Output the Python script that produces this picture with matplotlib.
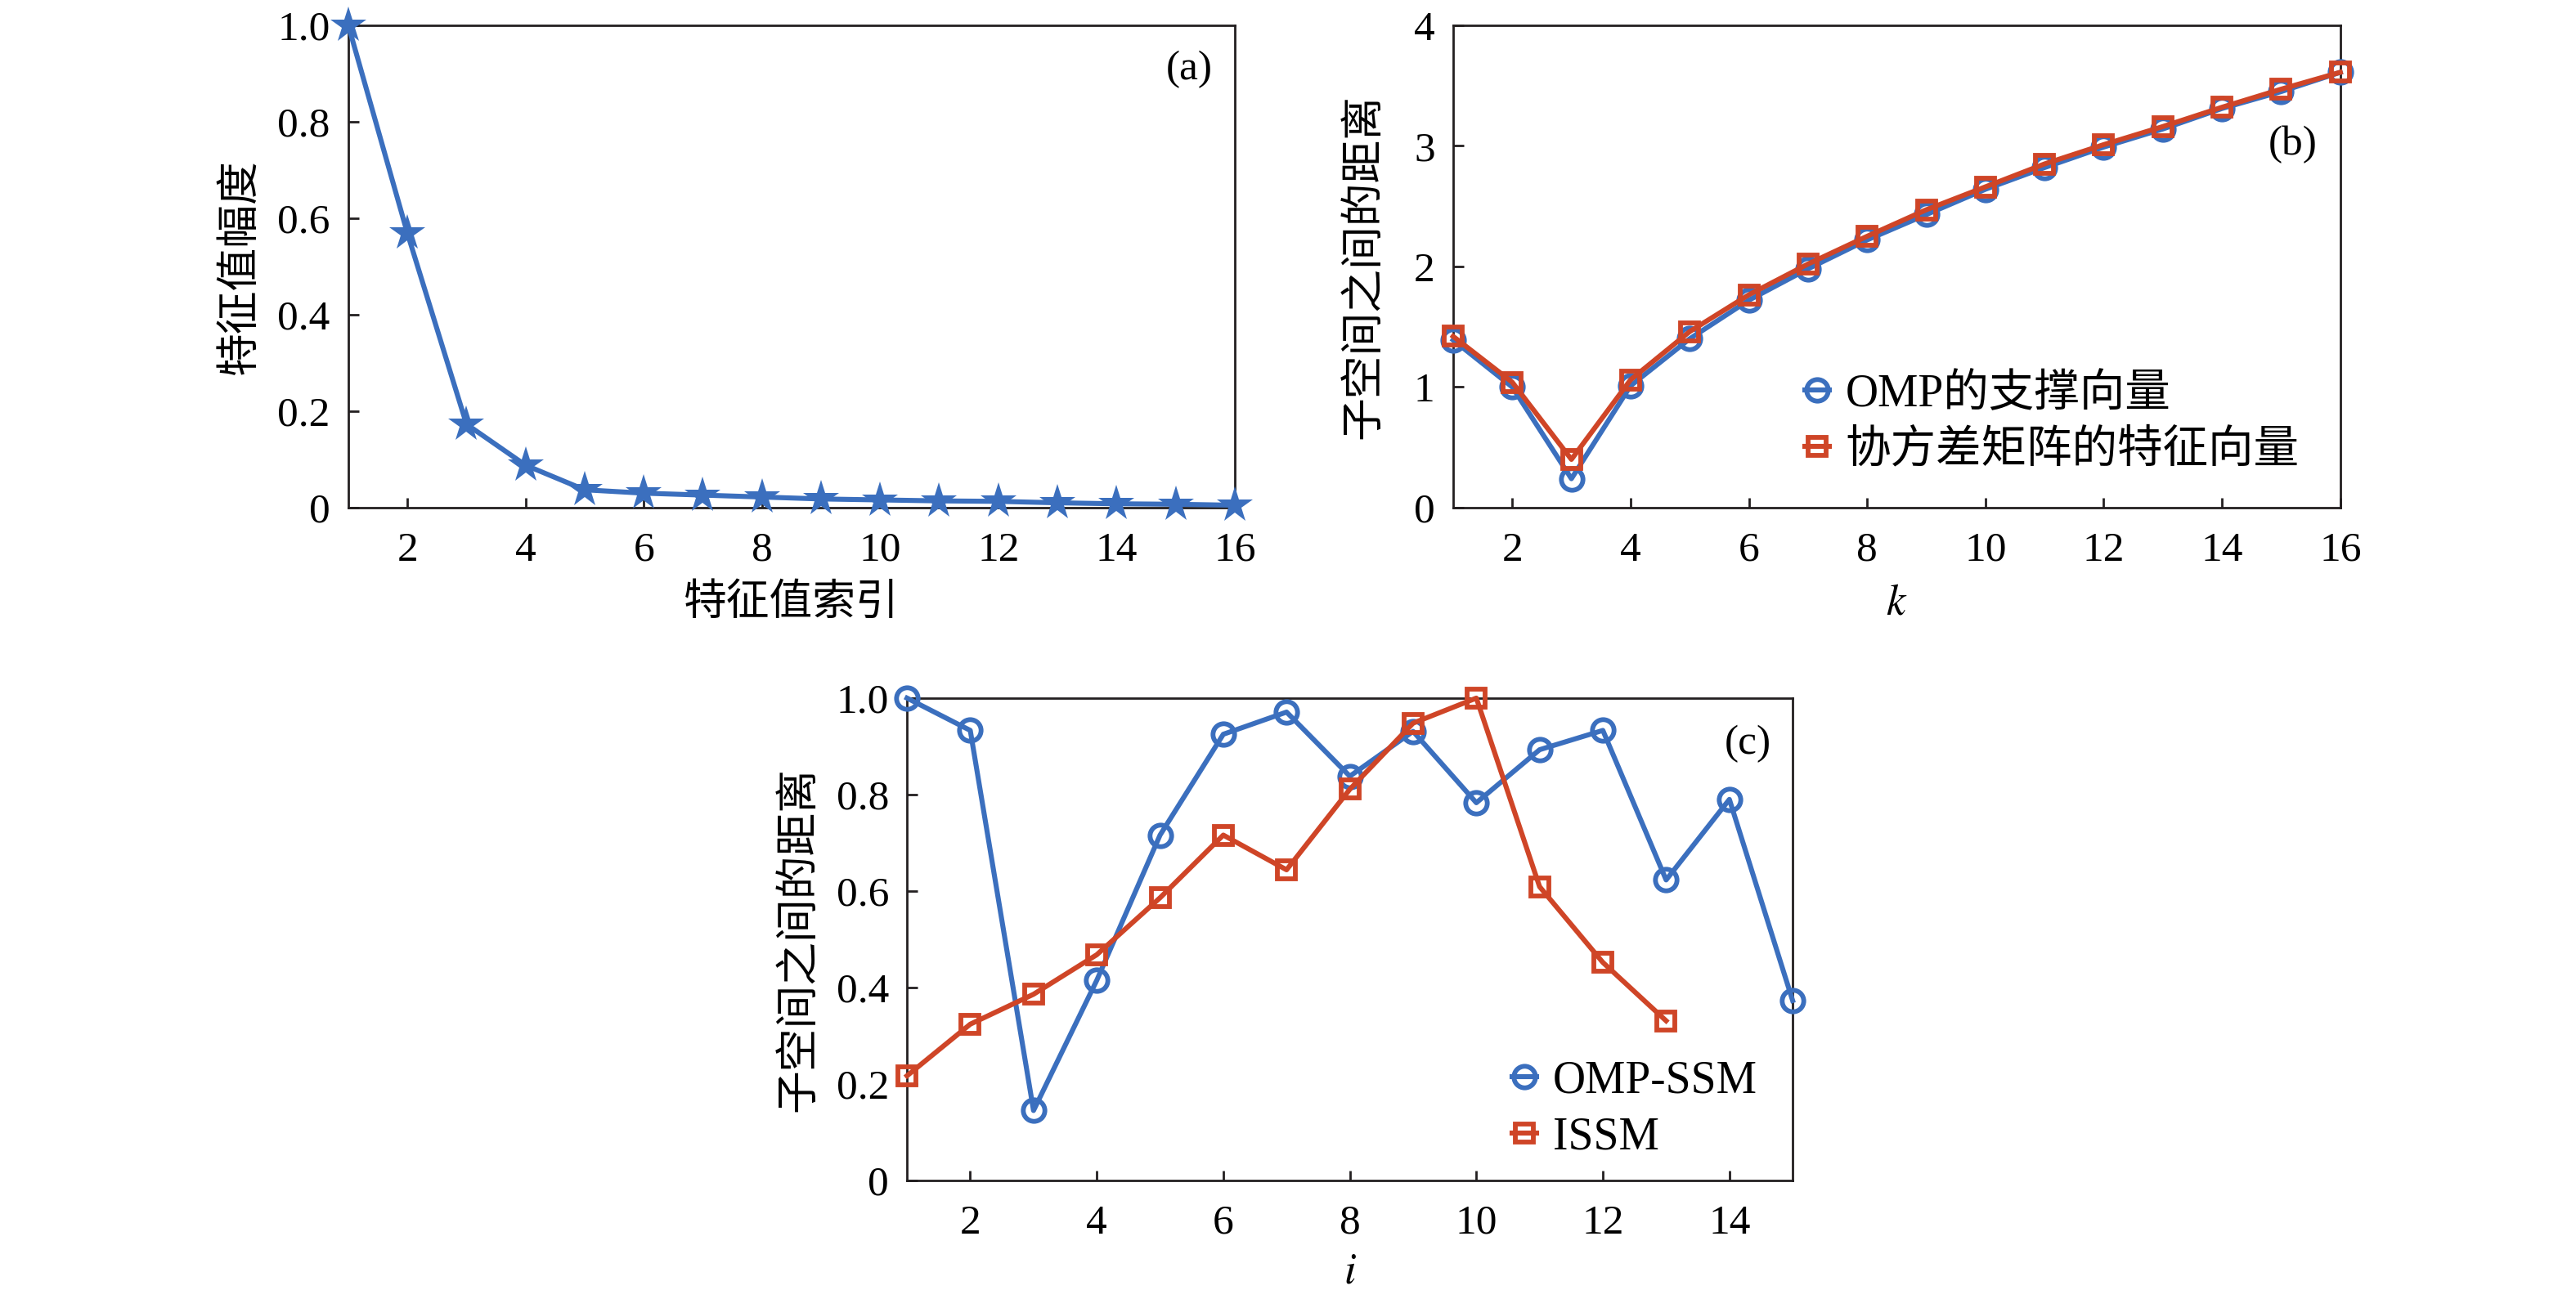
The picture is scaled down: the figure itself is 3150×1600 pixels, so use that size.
import matplotlib
matplotlib.use("Agg")
import matplotlib.pyplot as plt

plt.rcParams['font.family'] = ['Liberation Serif', 'Noto Sans CJK SC']
plt.rcParams['mathtext.fontset'] = 'stix'

# ---------------- data ----------------
idx_a = list(range(1, 17))
eig_mag = [1.0, 0.569, 0.173, 0.088, 0.037, 0.030, 0.026, 0.022,
           0.018, 0.016, 0.014, 0.013, 0.010, 0.008, 0.007, 0.005]

k_vals = list(range(1, 17))
dist_omp = [1.39, 1.00, 0.24, 1.01, 1.40, 1.72, 1.98, 2.22,
            2.43, 2.64, 2.82, 2.99, 3.14, 3.31, 3.45, 3.61]
dist_cov = [1.42, 1.04, 0.40, 1.06, 1.46, 1.765, 2.02, 2.25,
            2.47, 2.66, 2.85, 3.01, 3.16, 3.32, 3.47, 3.61]

i_omp = list(range(1, 16))
ssm_omp = [1.0, 0.933, 0.145, 0.415, 0.716, 0.925, 0.971, 0.838,
           0.931, 0.783, 0.893, 0.933, 0.623, 0.790, 0.373]
i_issm = list(range(1, 14))
ssm_issm = [0.217, 0.324, 0.386, 0.468, 0.586, 0.716, 0.644, 0.811,
            0.948, 1.0, 0.609, 0.452, 0.331]

xt_ab = [2, 4, 6, 8, 10, 12, 14, 16]
xt_c = [2, 4, 6, 8, 10, 12, 14]
yt_unit = [0, 0.2, 0.4, 0.6, 0.8, 1.0]
yt_unit_lbl = ['0', '0.2', '0.4', '0.6', '0.8', '1.0']
yt_b = [0, 1, 2, 3, 4]

label_a_x = '特征值索引'
label_a_y = '特征值幅度'
label_dist = '子空间之间的距离'
leg_b = ['OMP的支撑向量', '协方差矩阵的特征向量']
leg_c = ['OMP-SSM', 'ISSM']

# ---------------- style ----------------
BLUE = '#3B6FBE'
RED = '#CF4527'
FS = 37
LFS = 38
LEGFS = 40
LW = 4.4
MEW = 4.2

fig = plt.figure(figsize=(31.5, 16), dpi=100)
ax_a = fig.add_axes([0.1352, 0.6119, 0.3441, 0.3688])
ax_b = fig.add_axes([0.5641, 0.6119, 0.3444, 0.3688])
ax_c = fig.add_axes([0.3521, 0.0975, 0.3438, 0.3688])


def style(ax):
    for s in ax.spines.values():
        s.set_linewidth(2.0)
        s.set_color('#231f20')
    ax.tick_params(axis='both', direction='in', length=9, width=2.0,
                   labelsize=FS, top=False, right=False, color='#231f20')
    ax.tick_params(axis='x', pad=21)
    ax.tick_params(axis='y', pad=16)


# (a)
ax_a.plot(idx_a, eig_mag, color=BLUE, lw=LW, marker='*', markersize=33,
          markeredgewidth=0, clip_on=False, zorder=3)
ax_a.set_xlim(1, 16)
ax_a.set_ylim(0, 1.0)
ax_a.set_xticks(xt_ab)
ax_a.set_yticks(yt_unit)
ax_a.set_yticklabels(yt_unit_lbl)
style(ax_a)
ax_a.set_xlabel(label_a_x, fontsize=LFS, va='center')
ax_a.xaxis.set_label_coords(0.5, -0.2)
ax_a.set_ylabel(label_a_y, fontsize=LFS, va='center')
ax_a.yaxis.set_label_coords(-0.121, 0.5)
ax_a.text(0.949, 0.908, '(a)', transform=ax_a.transAxes, fontsize=FS,
          ha='center', va='center')

# (b)
ax_b.plot(k_vals, dist_omp, color=BLUE, lw=LW, marker='o', markersize=19,
          markerfacecolor='none', markeredgewidth=MEW, clip_on=False,
          zorder=3, label=leg_b[0])
ax_b.plot(k_vals, dist_cov, color=RED, lw=LW, marker='s', markersize=16,
          markerfacecolor='none', markeredgewidth=MEW, clip_on=False,
          zorder=4, label=leg_b[1])
ax_b.set_xlim(1, 16)
ax_b.set_ylim(0, 4)
ax_b.set_xticks(xt_ab)
ax_b.set_yticks(yt_b)
style(ax_b)
ax_b.set_xlabel('$k$', fontsize=LFS, va='center')
ax_b.xaxis.set_label_coords(0.5, -0.2)
ax_b.set_ylabel(label_dist, fontsize=LFS, va='center')
ax_b.yaxis.set_label_coords(-0.10, 0.5)
ax_b.text(0.946, 0.753, '(b)', transform=ax_b.transAxes, fontsize=FS,
          ha='center', va='center')
ax_b.legend(loc='center left', bbox_to_anchor=(0.396, 0.176), frameon=False,
            fontsize=LEGFS, handlelength=0.55, handletextpad=0.35,
            labelspacing=0.3, borderpad=0, borderaxespad=0)

# (c)
ax_c.plot(i_omp, ssm_omp, color=BLUE, lw=LW, marker='o', markersize=19,
          markerfacecolor='none', markeredgewidth=MEW, clip_on=False,
          zorder=3, label=leg_c[0])
ax_c.plot(i_issm, ssm_issm, color=RED, lw=LW, marker='s', markersize=16,
          markerfacecolor='none', markeredgewidth=MEW, clip_on=False,
          zorder=4, label=leg_c[1])
ax_c.set_xlim(1, 15)
ax_c.set_ylim(0, 1.0)
ax_c.set_xticks(xt_c)
ax_c.set_yticks(yt_unit)
ax_c.set_yticklabels(yt_unit_lbl)
style(ax_c)
ax_c.set_xlabel('$i$', fontsize=LFS, va='center')
ax_c.xaxis.set_label_coords(0.5, -0.19)
ax_c.set_ylabel(label_dist, fontsize=LFS, va='center')
ax_c.yaxis.set_label_coords(-0.121, 0.5)
ax_c.text(0.949, 0.905, '(c)', transform=ax_c.transAxes, fontsize=FS,
          ha='center', va='center')
ax_c.legend(loc='center left', bbox_to_anchor=(0.683, 0.147), frameon=False,
            fontsize=LEGFS, handlelength=0.55, handletextpad=0.35,
            labelspacing=0.3, borderpad=0, borderaxespad=0)

fig.savefig('out.png', dpi=100)
